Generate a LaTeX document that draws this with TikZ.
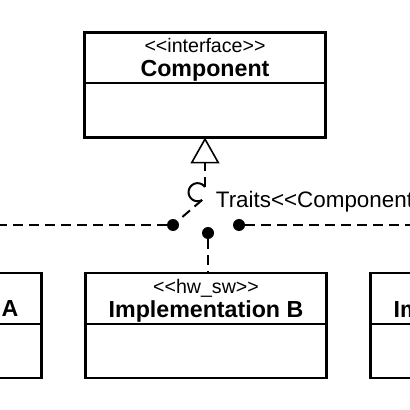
\documentclass[tikz,border=0pt]{standalone}
\usepackage{fontspec}
\setmainfont{Liberation Sans}
\usetikzlibrary{arrows.meta,calc}
\tikzstyle{classbox} = [rectangle, draw, line width=1.2pt, outer sep=0pt,
    minimum width=120.5pt, minimum height=52.5pt, inner sep=0pt]
\tikzstyle{stereo} = [font=\fontsize{9.8}{10}\selectfont, inner sep=0pt, anchor=base]
\tikzstyle{cname} = [font=\fontsize{11.6}{12}\selectfont\bfseries, inner sep=0pt, anchor=base]
\tikzstyle{divider} = [draw, line width=1pt]
\tikzstyle{dep} = [draw, line width=1pt, dash pattern=on 5pt off 3pt]
\tikzstyle{socket} = [draw, line width=1pt]
\tikzstyle{port} = [circle, fill, inner sep=0pt, minimum size=6pt]
\newcommand{\lguil}{<\kern0pt<}
\newcommand{\rguil}{>\kern0pt>}

\begin{document}
\begin{tikzpicture}[x=0.5pt, y=-0.5pt]
		\useasboundingbox (0,0) rectangle (410,410);
		\clip (0,0) rectangle (410,410);
		% classes
		\node [classbox] (comp) at (205,85) {};
		\node [classbox] (impla) at (-79,325.5) {};
		\node [classbox] (implb) at (206,325.5) {};
		\node [classbox] (implc) at (491,325.5) {};
		\foreach \b in {comp,impla,implb,implc}
			\path [divider] ($(\b.north west)+(0,-25.3pt)$) -- ($(\b.north east)+(0,-25.3pt)$);
		
		\node [stereo] (compst) at ($(comp.north)+(0,-9.8pt)$) {\lguil interface\rguil};
		\node [cname] (compname) at ($(comp.north)+(0,-21.8pt)$) {Component};
		\node [cname] (implaname) at ($(impla.north)+(0,-21.8pt)$) {Implementation A};
		\node [stereo] (implbst) at ($(implb.north)+(0,-10pt)$) {\lguil hw\_sw\rguil};
		\node [cname] (implbname) at ($(implb.north)+(0,-22pt)$) {Implementation B};
		\node [cname] (implcname) at ($(implc.north)+(0,-22pt)$) {Implementation C};
		
		% ports
		\node [port] (dotl) at (173,225) {};
		\node [port] (dotm) at (208,233) {};
		\node [port] (dotr) at (239,225) {};
		\coordinate (westend) at (0,225);
		\coordinate (eastend) at (410,225);
		\coordinate (sockin) at (205,187);
		\coordinate (sockc) at (197.6,192.2);
		\coordinate (sockout) at ($(sockc)+(-300:9)$);
		
		% realization with socket
		\path [dep, -{Triangle[open, width=14.5pt, length=13pt, line width=0.8pt]}] (sockin) -- (comp.south);
		\path [socket, shift={(sockc)}] plot [domain=-35:-300, samples=40] (\x:9);
		\path [dep] (sockout) -- (dotl);
		\node [font=\fontsize{11.2}{12}\selectfont, inner sep=0pt, anchor=base west] (traits) at (215.5,207.3) {Traits\lguil Component\rguil};
		
		\path [dep] (dotl) -- (westend);
		\path [dep] (dotr) -- (eastend);
		\path [dep] (dotm) -- (dotm |- implb.north);
	\end{tikzpicture}
\end{document}
